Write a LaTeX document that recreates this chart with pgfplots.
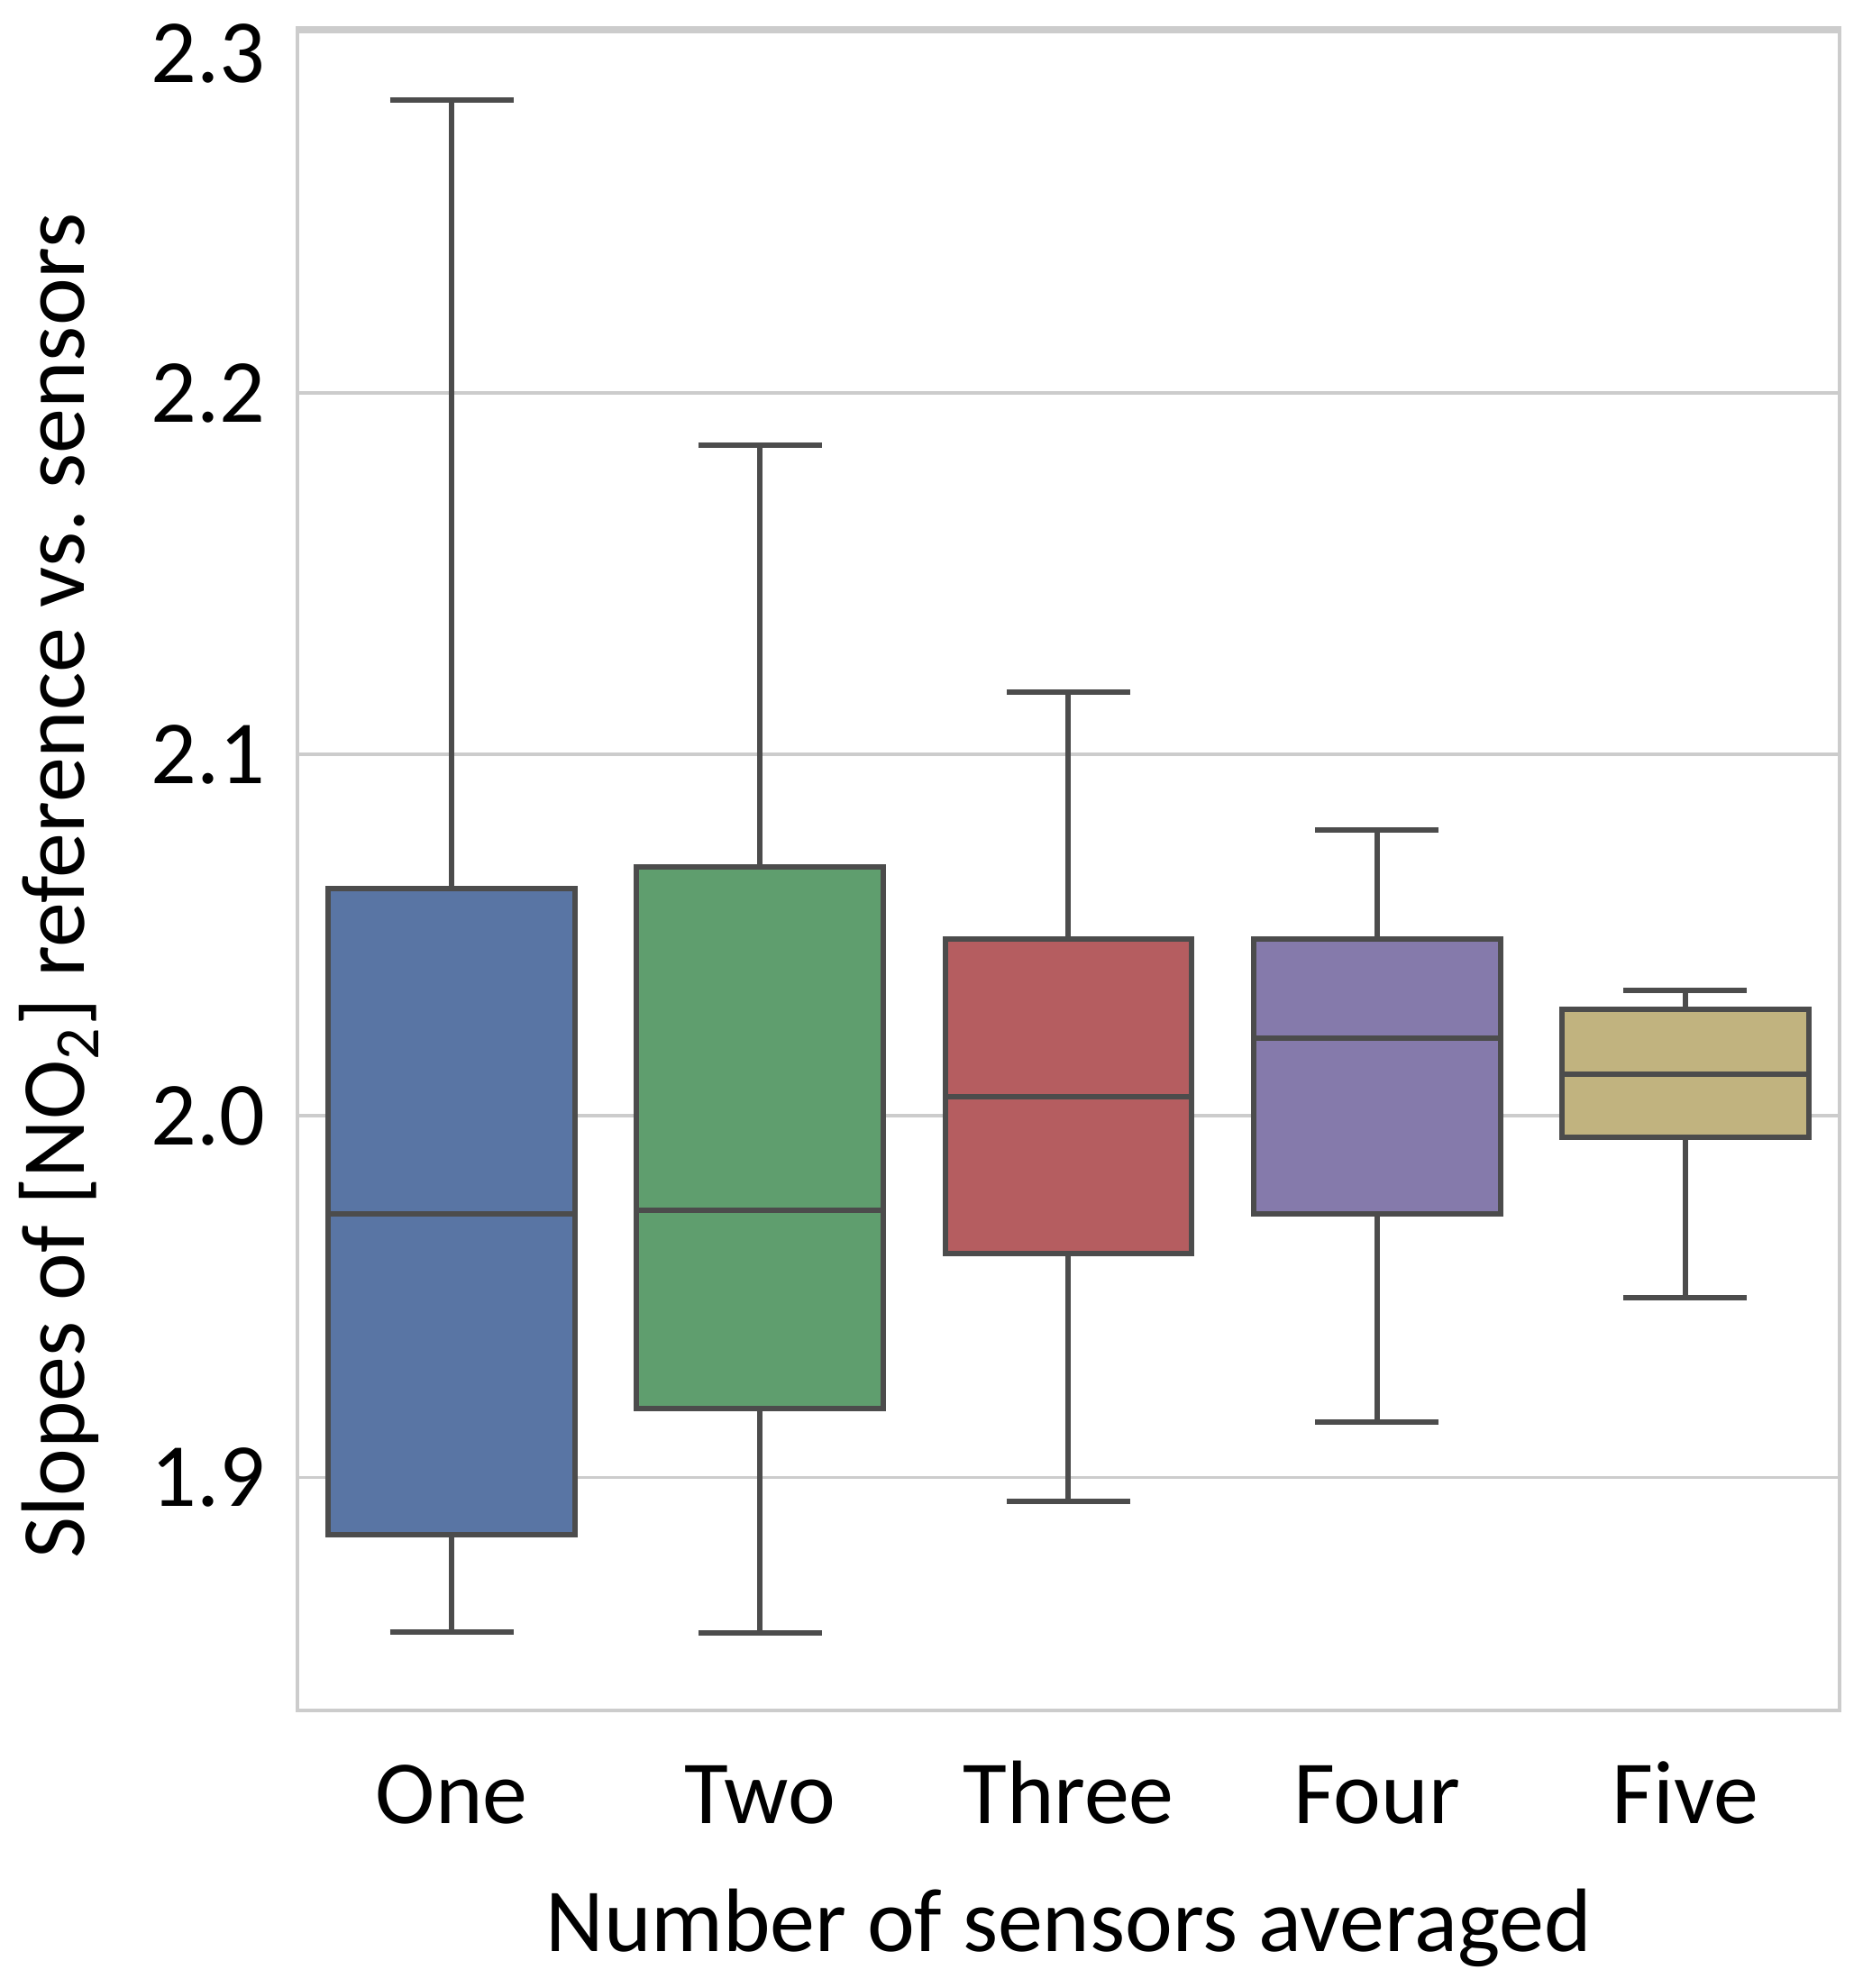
\documentclass[border=0pt]{standalone}
\usepackage{fontspec}
\setmainfont{Carlito}
\usepackage{pgfplots}
\pgfplotsset{compat=1.18}
\usepgfplotslibrary{statistics}

\definecolor{cOne}{HTML}{5975A4}
\definecolor{cTwo}{HTML}{5F9E6E}
\definecolor{cThree}{HTML}{B55D60}
\definecolor{cFour}{HTML}{857AAB}
\definecolor{cFive}{HTML}{C1B37F}
\definecolor{lineC}{HTML}{4C4C4C}
\definecolor{gridC}{HTML}{CCCCCC}

\begin{document}
\begin{tikzpicture}[font=\fontsize{20}{24}\selectfont]
\begin{axis}[
    scale only axis, width=342.2pt, height=373.4pt,
    xmin=-0.5, xmax=4.5, ymin=1.8355, ymax=2.301,
    xtick={0,1,2,3,4},
    xticklabels={One,Two,Three,Four,Five},
    ytick={1.9,2.0,2.1,2.2},
    extra y ticks={2.3},
    extra y tick style={yticklabel style={yshift=-4.8pt}},
    /pgf/number format/assume math mode=true,
    yticklabel style={/pgf/number format/.cd,fixed,fixed zerofill,precision=1,
        /tikz/.cd, anchor=east, inner sep=0pt, xshift=-7pt},
    xticklabel style={anchor=base, inner sep=0pt, yshift=-25pt},
    major tick length=0pt,
    ymajorgrids, grid style={gridC, line width=0.7pt},
    axis line style={gridC, line width=0.7pt},
    xlabel={Number of sensors averaged},
    xlabel style={at={(axis description cs:0.5,0)}, anchor=base, inner sep=0pt, yshift=-53.4pt},
    ylabel={Slopes of [NO\textsubscript{2}] reference vs.\ sensors},
    ylabel style={at={(axis description cs:-0.181,0.49)}, anchor=north, inner sep=0pt},
    boxplot/draw direction=y,
    boxplot/box extend=0.8,
    boxplot/whisker extend=0.4,
    every axis plot/.append style={draw=lineC, line width=1.2pt, solid},
]
\addplot[boxplot prepared={draw position=0, lower whisker=1.8572, lower quartile=1.8842,
    median=1.9730, upper quartile=2.0628, upper whisker=2.2810}, fill=cOne] coordinates {};
\addplot[boxplot prepared={draw position=1, lower whisker=1.8570, lower quartile=1.9190,
    median=1.9740, upper quartile=2.0688, upper whisker=2.1856}, fill=cTwo] coordinates {};
\addplot[boxplot prepared={draw position=2, lower whisker=1.8933, lower quartile=1.9618,
    median=2.0053, upper quartile=2.0488, upper whisker=2.1172}, fill=cThree] coordinates {};
\addplot[boxplot prepared={draw position=3, lower whisker=1.9154, lower quartile=1.9730,
    median=2.0214, upper quartile=2.0488, upper whisker=2.0790}, fill=cFour] coordinates {};
\addplot[boxplot prepared={draw position=4, lower whisker=1.9498, lower quartile=1.9940,
    median=2.0116, upper quartile=2.0295, upper whisker=2.0347}, fill=cFive] coordinates {};
\end{axis}
\pgfresetboundingbox
\path[use as bounding box] ([shift={(-66pt,-61.6pt)}]current axis.south west)
    rectangle ([shift={(5.2pt,6.2pt)}]current axis.north east);
\end{tikzpicture}
\end{document}
